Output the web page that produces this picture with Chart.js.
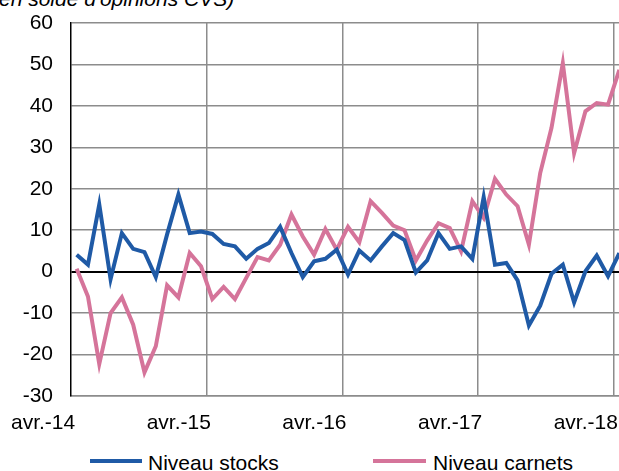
<!DOCTYPE html>
<html>
<head>
<meta charset="utf-8">
<script src="https://cdn.jsdelivr.net/npm/chart.js@4"></script>
<style>
  body { margin: 0; width: 619px; height: 471px; overflow: hidden; position: relative; background: #fff;
         font-family: "Liberation Sans", Arial, sans-serif; color: #000; }
  #note { position: absolute; left: -8px; top: -12px; font-size: 21px; line-height: 21px; font-style: italic; white-space: nowrap; }
  #wrap { position: absolute; left: 0; top: 0; width: 640px; height: 440px; }
  #legend { position: absolute; left: 0; top: 451px; font-size: 21px; line-height: 23px; }
  .item { position: absolute; top: 0; white-space: nowrap; }
  .swatch { position: absolute; left: 0; top: 8px; width: 52px; height: 4px; }
  .item span.txt { position: absolute; left: 58px; top: 0; }
</style>
</head>
<body>
<div id="note">(en solde d'opinions CVS)</div>
<div id="wrap"><canvas id="lineChart"></canvas></div>
<div id="legend">
  <div class="item" style="left:90px"><div class="swatch" style="background:#1F5AA6"></div><span class="txt">Niveau stocks</span></div>
  <div class="item" style="left:373px"><div class="swatch" style="background:#D5749A;width:53px"></div><span class="txt" style="left:60px">Niveau carnets</span></div>
</div>
<script>
const months = [
  'avr.-14', 'mai-14', 'juin-14', 'juil.-14', 'août-14', 'sept.-14', 'oct.-14', 'nov.-14', 'déc.-14',
  'janv.-15', 'févr.-15', 'mars-15', 'avr.-15', 'mai-15', 'juin-15', 'juil.-15', 'août-15', 'sept.-15', 'oct.-15', 'nov.-15', 'déc.-15',
  'janv.-16', 'févr.-16', 'mars-16', 'avr.-16', 'mai-16', 'juin-16', 'juil.-16', 'août-16', 'sept.-16', 'oct.-16', 'nov.-16', 'déc.-16',
  'janv.-17', 'févr.-17', 'mars-17', 'avr.-17', 'mai-17', 'juin-17', 'juil.-17', 'août-17', 'sept.-17', 'oct.-17', 'nov.-17', 'déc.-17',
  'janv.-18', 'févr.-18', 'mars-18', 'avr.-18'
];

const niveauStocks = [
  4.1, 1.7, 16.2, -1.8, 9.3, 5.5, 4.7, -1.3, 9.0, 18.6, 9.3, 9.7,
  9.1, 6.7, 6.1, 3.1, 5.5, 6.9, 10.8, 4.5, -1.3, 2.5, 3.1, 5.3,
  -0.7, 5.1, 2.7, 6.1, 9.3, 7.6, -0.2, 2.7, 9.3, 5.5, 6.1, 3.1,
  18.0, 1.7, 2.1, -2.1, -13.0, -8.2, -0.5, 1.7, -7.4, 0.1, 3.9, -1.1,
  4.5
];

const niveauCarnets = [
  0.7, -6.0, -22.3, -10.0, -6.2, -12.8, -24.3, -18.0, -3.3, -6.2, 4.5, 1.3,
  -6.6, -3.7, -6.6, -1.5, 3.5, 2.7, 6.5, 13.8, 8.5, 4.1, 10.3, 5.3,
  10.8, 7.1, 17.0, 14.2, 11.1, 10.0, 2.7, 7.5, 11.7, 10.5, 4.9, 17.0,
  13.0, 22.4, 18.6, 15.8, 6.5, 23.8, 34.7, 50.3, 28.6, 38.7, 40.7, 40.3,
  48.7
];

const yMin = -30;
const yMax = 60;
const yStep = 10;

const fontFamily = '"Liberation Sans", Arial, sans-serif';
const gridGrey = '#8c8c8c';
const noColour = 'rgba(0,0,0,0)';

const ctx = document.getElementById('lineChart').getContext('2d');

const chartData = {
  labels: months,
  datasets: [
    {
      label: 'Niveau stocks',
      data: niveauStocks,
      borderColor: '#1F5AA6',
      backgroundColor: '#1F5AA6',
      borderWidth: 4,
      pointRadius: 0,
      tension: 0
    },
    {
      label: 'Niveau carnets',
      data: niveauCarnets,
      borderColor: '#D5749A',
      backgroundColor: '#D5749A',
      borderWidth: 4,
      pointRadius: 0,
      tension: 0
    }
  ]
};

const config = {
  type: 'line',
  data: chartData,
  options: {
    responsive: true,
    maintainAspectRatio: false,
    animation: false,
    layout: {
      padding: { top: 23, right: 15, left: 0, bottom: 0 }
    },
    plugins: {
      legend: { display: false },
      tooltip: { enabled: false }
    },
    scales: {
      x: {
        offset: true,
        grid: {
          offset: true,
          drawTicks: true,
          tickLength: 15,
          tickColor: noColour,
          lineWidth: 1.5,
          color: (c) => (c.index > 0 && c.index % 12 === 0) ? gridGrey : noColour
        },
        border: { display: true, color: gridGrey, width: 1.5 },
        ticks: {
          autoSkip: false,
          maxRotation: 0,
          minRotation: 0,
          align: 'end',
          labelOffset: -1.5,
          padding: 0,
          color: '#000',
          font: { size: 21, family: fontFamily },
          callback: function (value, index) {
            return index % 12 === 0 ? this.getLabelForValue(value) : '';
          }
        },
        afterFit: (scale) => { scale.height = 44; }
      },
      y: {
        min: yMin,
        max: yMax,
        grid: {
          drawTicks: true,
          tickLength: 18,
          tickColor: noColour,
          color: (c) => c.tick.value === 0 ? '#000' : gridGrey,
          lineWidth: (c) => c.tick.value === 0 ? 2 : 1.5
        },
        border: { color: '#000', width: 1.5 },
        ticks: {
          stepSize: yStep,
          padding: 0,
          color: '#000',
          font: { size: 21, family: fontFamily }
        },
        afterFit: (scale) => { scale.width = 71; }
      }
    }
  }
};

const myChart = new Chart(ctx, config);
</script>
</body>
</html>
